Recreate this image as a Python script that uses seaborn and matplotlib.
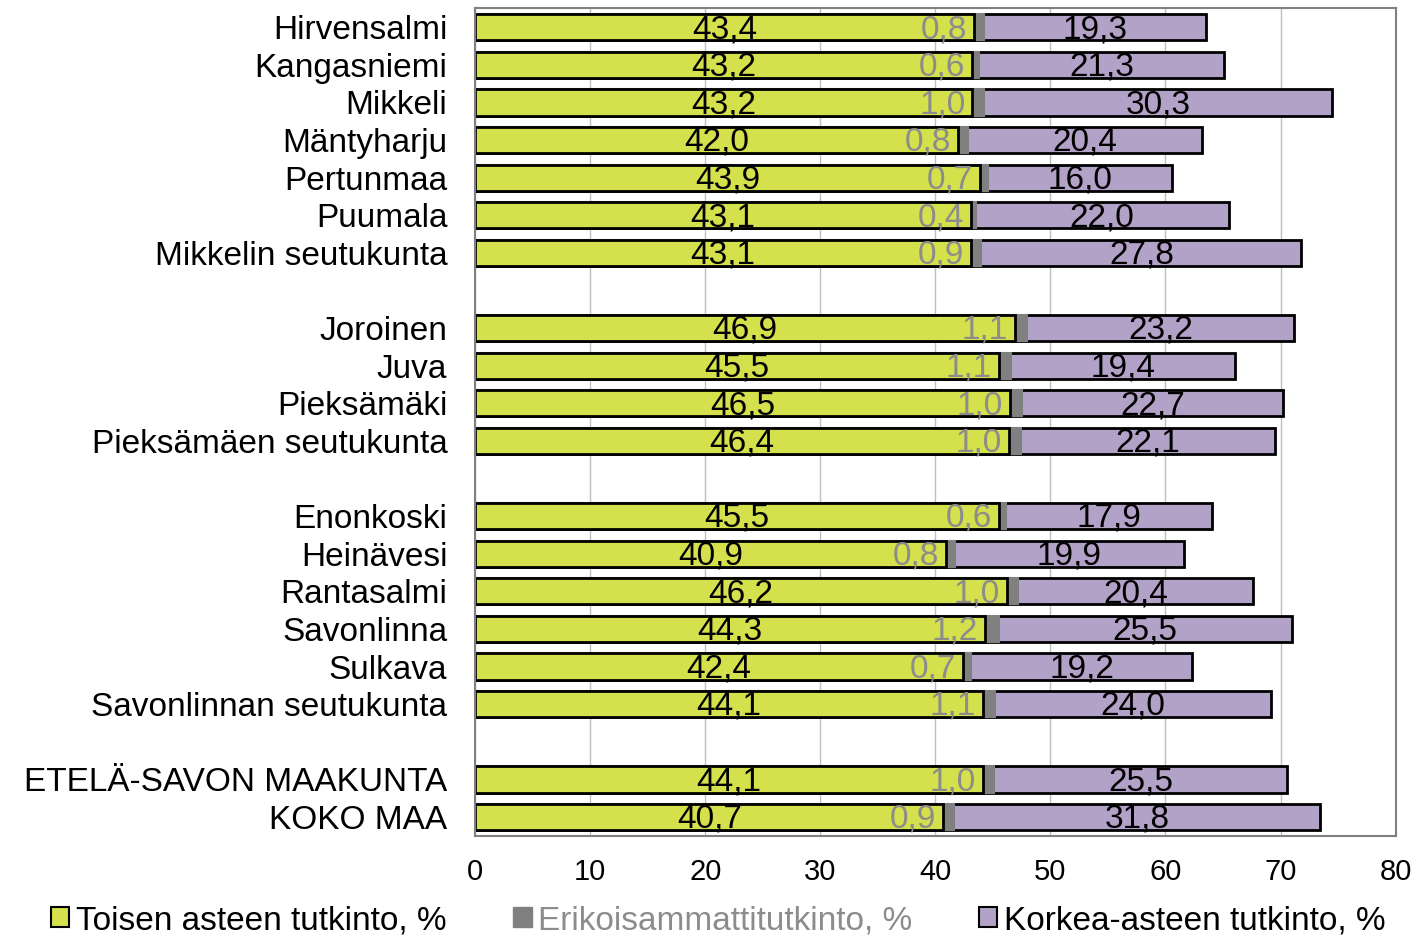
import numpy as np
import pandas as pd
import matplotlib.pyplot as plt
import seaborn as sns

names = ["Hirvensalmi", "Kangasniemi", "Mikkeli", "Mäntyharju", "Pertunmaa", "Puumala",
         "Mikkelin seutukunta",
         "Joroinen", "Juva", "Pieksämäki", "Pieksämäen seutukunta",
         "Enonkoski", "Heinävesi", "Rantasalmi", "Savonlinna", "Sulkava",
         "Savonlinnan seutukunta",
         "ETELÄ-SAVON MAAKUNTA", "KOKO MAA"]
toinen = [43.4, 43.2, 43.2, 42.0, 43.9, 43.1, 43.1,
          46.9, 45.5, 46.5, 46.4,
          45.5, 40.9, 46.2, 44.3, 42.4, 44.1,
          44.1, 40.7]
erikois = [0.8, 0.6, 1.0, 0.8, 0.7, 0.4, 0.9,
           1.1, 1.1, 1.0, 1.0,
           0.6, 0.8, 1.0, 1.2, 0.7, 1.1,
           1.0, 0.9]
korkea = [19.3, 21.3, 30.3, 20.4, 16.0, 22.0, 27.8,
          23.2, 19.4, 22.7, 22.1,
          17.9, 19.9, 20.4, 25.5, 19.2, 24.0,
          25.5, 31.8]
series_names = ["Toisen asteen tutkinto, %", "Erikoisammattitutkinto, %", "Korkea-asteen tutkinto, %"]

# row order with empty rows between the groups
order = names[:7] + [" "] + names[7:11] + ["  "] + names[11:17] + ["   "] + names[17:]

df = pd.DataFrame({"alue": names, "toinen": toinen, "erikois": erikois, "korkea": korkea})
df["c1"] = df["toinen"]
df["c2"] = df["toinen"] + df["erikois"]
df["c3"] = df["c2"] + df["korkea"]

sns.set_style("white")
plt.rcParams["font.family"] = ["Liberation Sans", "DejaVu Sans"]
plt.rcParams["text.color"] = "black"
plt.rcParams["xtick.color"] = "black"
plt.rcParams["ytick.color"] = "black"

green = "#d4e04c"
grey = "#808080"
purple = "#b3a2c7"

fig, ax = plt.subplots(figsize=(14.14, 9.38), dpi=100)
fig.subplots_adjust(left=0.336, right=0.987, top=0.991, bottom=0.109)

# overlay cumulative totals, back to front
sns.barplot(data=df, x="c3", y="alue", order=order, color=purple, saturation=1,
            edgecolor="black", linewidth=2, width=0.7, ax=ax, errorbar=None)
sns.barplot(data=df, x="c2", y="alue", order=order, color=grey, saturation=1,
            edgecolor=grey, linewidth=1.5, width=0.7, ax=ax, errorbar=None)
sns.barplot(data=df, x="c1", y="alue", order=order, color=green, saturation=1,
            edgecolor="black", linewidth=2, width=0.7, ax=ax, errorbar=None)

pos = {n: i for i, n in enumerate(order)}
fmt = lambda v: f"{v:.1f}".replace(".", ",")
for _, r in df.iterrows():
    y = pos[r["alue"]] + 0.06
    ax.text(r["toinen"] / 2, y, fmt(r["toinen"]), ha="center", va="center",
            fontsize=24, color="black")
    ax.text(r["toinen"] - 0.6, y, fmt(r["erikois"]), ha="right", va="center",
            fontsize=24, color="#8c8c8c")
    ax.text(r["c2"] + r["korkea"] / 2, y, fmt(r["korkea"]), ha="center", va="center",
            fontsize=24, color="black")

ax.set_xlim(0, 80)
ax.set_ylim(len(order) - 0.5, -0.5)
ax.set_xticks(range(0, 81, 10))
ax.set_xlabel("")
ax.set_ylabel("")
ax.xaxis.grid(True, color="#bfbfbf", linewidth=1)
ax.set_axisbelow(True)
ax.tick_params(axis="y", labelsize=24, length=0, pad=20)
ax.tick_params(axis="x", labelsize=21, length=0, pad=16)
for s in ax.spines.values():
    s.set_color("#808080")
    s.set_linewidth(1.5)

from matplotlib.patches import Patch
handles = [Patch(facecolor=green, edgecolor="black", linewidth=1.5),
           Patch(facecolor=grey, edgecolor=grey),
           Patch(facecolor=purple, edgecolor="black", linewidth=1.5)]
leg = fig.legend(handles, series_names, loc="lower center", bbox_to_anchor=(0.508, -0.03),
                 ncol=3, frameon=False, fontsize=24, handlelength=0.55, handleheight=0.55,
                 handletextpad=0.2, columnspacing=2.0)
leg.get_texts()[1].set_color("#8c8c8c")

fig.savefig("out.png", dpi=100)
